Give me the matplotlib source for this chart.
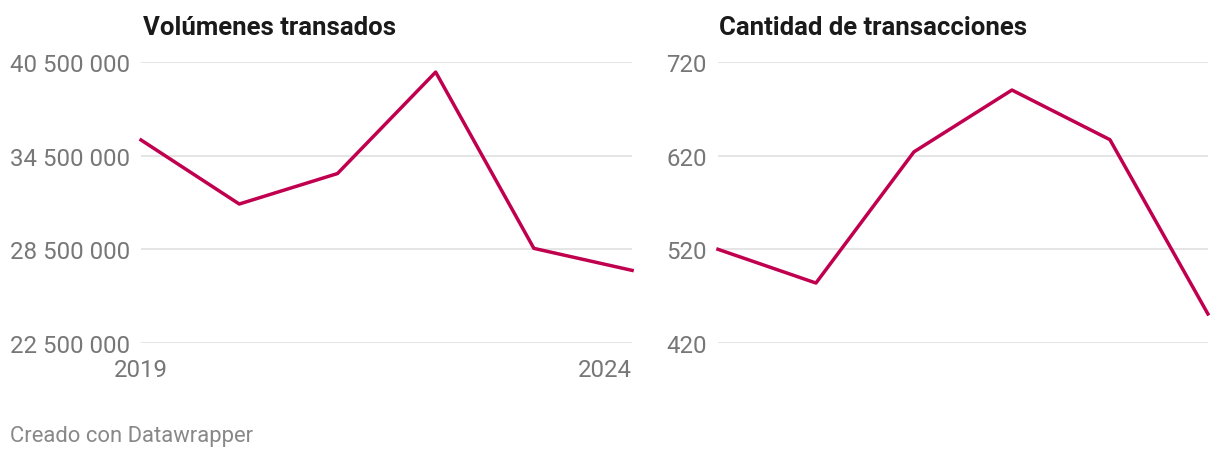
import matplotlib.pyplot as plt
from matplotlib.ticker import FixedLocator

plt.rcParams['font.family'] = ['Roboto', 'DejaVu Sans']

years = [2019, 2020, 2021, 2022, 2023, 2024]
volumenes = [35.5e6, 31.4e6, 33.35e6, 39.85e6, 28.56e6, 27.15e6]
cantidad = [520, 484, 624, 690, 637, 451]

vol_ticks = [22.5e6, 28.5e6, 34.5e6, 40.5e6]
cant_ticks = [420, 520, 620, 720]

line_color = '#c0004f'
grid_color = '#e0e0e0'
label_color = '#777777'
tick_size = 17.3

fig = plt.figure(figsize=(12.2, 4.6), dpi=100)
ax1 = fig.add_axes([0.1156, 0.2522, 0.4025, 0.611])
ax2 = fig.add_axes([0.5885, 0.2522, 0.4016, 0.611])


def fmt_thousands(v):
    return f"{int(v):,}".replace(",", " ")


def style(ax, ticks, title, x0):
    ax.set_ylim(ticks[0], ticks[-1])
    ax.set_xlim(years[0], years[-1])
    ax.yaxis.set_major_locator(FixedLocator(ticks))
    ax.set_yticklabels([fmt_thousands(t) for t in ticks])
    for s in ax.spines.values():
        s.set_visible(False)
    # left-align y tick labels at a fixed x pixel position
    pad = (ax.get_position().x0 * 1220 - x0) / 100 * 72
    ax.tick_params(axis='y', length=0, pad=pad, labelsize=tick_size, labelcolor=label_color)
    for lab in ax.get_yticklabels():
        lab.set_horizontalalignment('left')
    ax.grid(True, axis='y', color=grid_color, linewidth=1.2)
    ax.set_axisbelow(True)
    ax.text(0.003, 1.10, title, transform=ax.transAxes, fontsize=18.5, fontweight='bold',
            color='#1a1a1a', ha='left', va='baseline')


style(ax1, vol_ticks, "Volúmenes transados", 10)
style(ax2, cant_ticks, "Cantidad de transacciones", 666)

ax1.plot(years, volumenes, color=line_color, linewidth=2.5, clip_on=False)
ax2.plot(years, cantidad, color=line_color, linewidth=2.5, clip_on=False)

ax1.xaxis.set_major_locator(FixedLocator([years[0], years[-1]]))
ax1.set_xticklabels([str(years[0]), str(years[-1])])
ax1.tick_params(axis='x', length=0, pad=11, labelsize=tick_size, labelcolor=label_color)
ax1.get_xticklabels()[-1].set_horizontalalignment('right')
ax2.set_xticks([])

fig.text(10 / 1220, 1 - 437 / 460, "Creado con Datawrapper", fontsize=15.8,
         color='#888888', ha='left', va='center')

plt.savefig('out.png', dpi=100)
